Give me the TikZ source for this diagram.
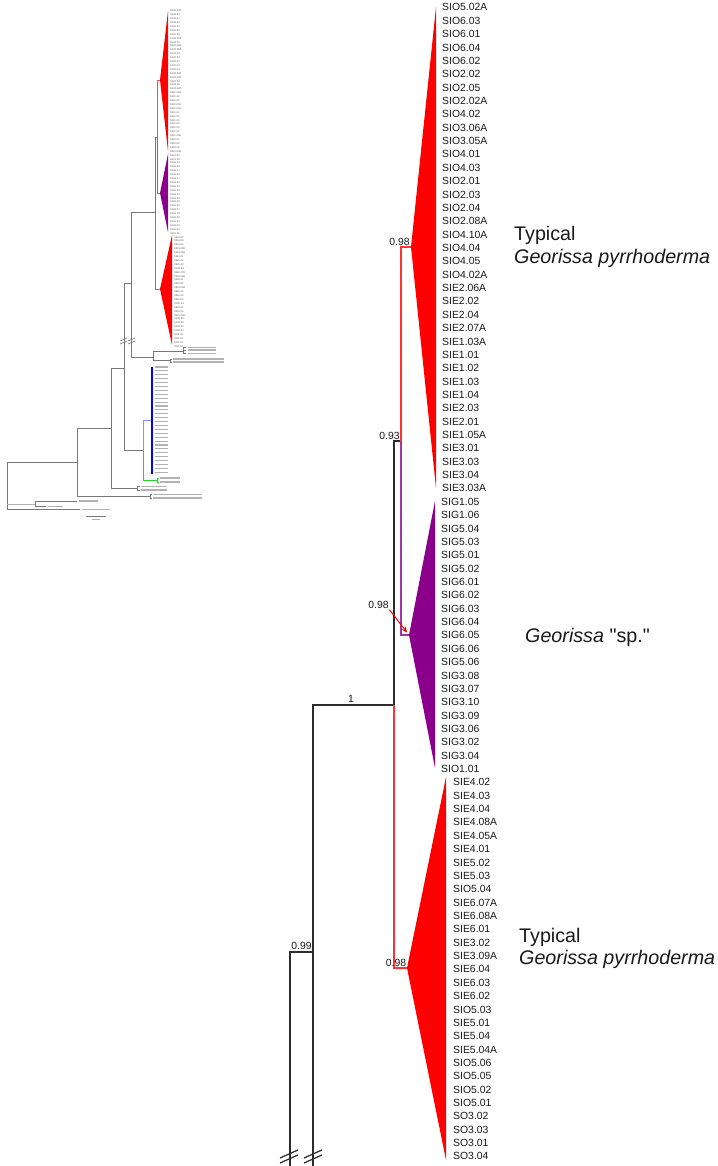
\documentclass[tikz,border=0pt]{standalone}
\usepackage{fontspec}
\setmainfont{Liberation Sans}
\newfontfamily\plainfont{Liberation Sans}
\usetikzlibrary{arrows.meta}
\definecolor{cpurple}{RGB}{139,0,139}
\definecolor{cred}{RGB}{255,0,0}
\definecolor{cline}{RGB}{45,45,45}
\definecolor{cblue}{RGB}{0,0,255}
\definecolor{cgreen}{RGB}{40,210,40}
\definecolor{cgrey}{RGB}{120,120,120}
\begin{document}
\begin{tikzpicture}[x=1pt,y=-1pt,
  taxon/.style={anchor=west,inner sep=0pt,font=\fontsize{10.4}{12}\selectfont,text=black!90,text height=7.4pt,text depth=0pt},
  support/.style={inner sep=0pt,font=\fontsize{10.4}{12}\selectfont,text=black!90,text height=7.4pt,text depth=0pt},
  grouplab/.style={anchor=base west,inner sep=0pt,font=\fontsize{19.7}{22}\selectfont,text=black!90},
  blk/.style={draw=cline,line width=1.6pt,line join=miter},
  redbr/.style={draw=cred!80,line width=1.1pt,line join=miter},
  purbr/.style={draw=cpurple!80,line width=1.3pt,line join=miter},
  brk/.style={draw=cline,line width=1.2pt},
  itiny/.style={anchor=west,inner sep=0pt,font=\fontsize{2.6}{3}\selectfont,text=black!65},
  iline/.style={draw=cgrey,line width=0.8pt,line join=miter},
  ired/.style={draw=cred!70,line width=0.6pt},
  ipur/.style={draw=cpurple!70,line width=0.6pt},
  iph/.style={draw=black!30,line width=1.1pt}
]
\useasboundingbox (0,0) rectangle (717,1166);

% ================= main tree =================
\coordinate (b1) at (313,1166);
\coordinate (b2) at (290,1166);
\coordinate (n099) at (290,952);
\coordinate (j099) at (313,952);
\coordinate (nroot) at (313,705);
\coordinate (n1) at (394,705);
\coordinate (j093) at (394,441);
\coordinate (n093) at (401,441);
\coordinate (ntop) at (401,247);
\coordinate (atop) at (411,247);
\coordinate (npur) at (401,635);
\coordinate (apur) at (409,635);
\coordinate (nbot) at (394,968);
\coordinate (abot) at (407,968);

% collapsed clades
\fill[cred] (atop) -- (436,7) -- (436,488) -- cycle;
\fill[cpurple] (apur) -- (435,501) -- (435,768) -- cycle;
\fill[cred] (abot) -- (446,777) -- (446,1160) -- cycle;

\draw[blk] (b1) -- (nroot) -- (n1) -- (j093) -- (n093);
\draw[blk] (j099) -- (n099) -- (b2);
\draw[redbr] (n1) -- (nbot) -- (abot);
\draw[redbr] (n093) -- (ntop) -- (atop);
\draw[purbr] (n093) -- (npur) -- (apur);

% break marks
\draw[brk] (280,1158) -- (298,1150);
\draw[brk] (280,1163) -- (298,1155);
\draw[brk] (304,1158) -- (322,1150);
\draw[brk] (304,1163) -- (322,1155);

% support values
\node[support] (s098a) at (399.5,242) {0.98};
\node[support] (s093) at (389.5,435.5) {0.93};
\node[support] (s098p) at (378.5,605) {0.98};
\node[support] (s1) at (351,699) {1};
\node[support] (s099) at (301.5,946) {0.99};
\node[support] (s098b) at (396,963) {0.98};
\draw[draw=cred,line width=1pt,-{Stealth[length=6pt,width=5pt]},shorten >=3pt,shorten <=1pt] (s098p.south east) -- (apur);

% taxon labels
\foreach \t [count=\i from 0] in {SIO5.02A,SIO6.03,SIO6.01,SIO6.04,SIO6.02,SIO2.02,SIO2.05,SIO2.02A,SIO4.02,SIO3.06A,SIO3.05A,SIO4.01,SIO4.03,SIO2.01,SIO2.03,SIO2.04,SIO2.08A,SIO4.10A,SIO4.04,SIO4.05,SIO4.02A,SIE2.06A,SIE2.02,SIE2.04,SIE2.07A,SIE1.03A,SIE1.01,SIE1.02,SIE1.03,SIE1.04,SIE2.03,SIE2.01,SIE1.05A,SIE3.01,SIE3.03,SIE3.04,SIE3.03A}
  \node[taxon] (m\i) at (442,{7.3+\i*13.36}) {\t};
\foreach \t [count=\i from 37] in {SIG1.05,SIG1.06,SIG5.04,SIG5.03,SIG5.01,SIG5.02,SIG6.01,SIG6.02,SIG6.03,SIG6.04,SIG6.05,SIG6.06,SIG5.06,SIG3.08,SIG3.07,SIG3.10,SIG3.09,SIG3.06,SIG3.02,SIG3.04,SIO1.01}
  \node[taxon] (m\i) at (441,{7.3+\i*13.36}) {\t};
\foreach \t [count=\i from 58] in {SIE4.02,SIE4.03,SIE4.04,SIE4.08A,SIE4.05A,SIE4.01,SIE5.02,SIE5.03,SIO5.04,SIE6.07A,SIE6.08A,SIE6.01,SIE3.02,SIE3.09A,SIE6.04,SIE6.03,SIE6.02,SIO5.03,SIE5.01,SIE5.04,SIE5.04A,SIO5.06,SIO5.05,SIO5.02,SIO5.01,SO3.02,SO3.03,SO3.01,SO3.04}
  \node[taxon] (m\i) at (453,{7.3+\i*13.36}) {\t};

% group labels
\node[grouplab] (g1a) at (514,240.7) {Typical};
\node[grouplab] (g1b) at (514,263.3) {\itshape Georissa pyrrhoderma};
\node[grouplab] (g2) at (525,642.7) {\textit{Georissa} {\plainfont "sp."}};
\node[grouplab] (g3a) at (519,942.7) {Typical};
\node[grouplab] (g3b) at (519,964.5) {\itshape Georissa pyrrhoderma};

% ================= inset tree =================
\coordinate (iatop) at (160,80);
\coordinate (intop) at (157,80);
\coordinate (in093) at (157,137);
\coordinate (ij093) at (155,137);
\coordinate (inpur) at (157,193);
\coordinate (iapur) at (160,193);
\coordinate (in1) at (155,212);
\coordinate (inbot) at (155,289);
\coordinate (iabot) at (160,289);
\coordinate (iA) at (131,212);
\coordinate (iAb) at (131,357);
\coordinate (iAj) at (124,283);
\coordinate (iAp) at (131,283);
\coordinate (iS) at (153,357);
\coordinate (iSu) at (153,351);
\coordinate (iSl) at (153,360.5);
\coordinate (iSa) at (183,351);
\coordinate (iKa) at (170,360.5);
\coordinate (iB) at (124,450);
\coordinate (iBt) at (124,368);
\coordinate (iC) at (111,368);
\coordinate (iCb) at (111,488);
\coordinate (iCj) at (111,428);
\coordinate (iH) at (137,488);
\coordinate (iD) at (77,428);
\coordinate (iDb) at (77,496);
\coordinate (iDj) at (77,462);
\coordinate (iG) at (150,496);
\coordinate (iR) at (7,462);
\coordinate (iRb) at (7,509);
\coordinate (iRn) at (7,504);
\coordinate (iN) at (35,504);
\coordinate (iE) at (143,450);
\coordinate (iEb) at (143,420);
\coordinate (iEg) at (143,480);
\coordinate (iBl) at (152,420);
\coordinate (iGr) at (157,480);

\fill[cred] (iatop) -- (168,11) -- (168,151) -- cycle;
\fill[cpurple] (iapur) -- (168,154) -- (168,232) -- cycle;
\fill[cred] (iabot) -- (172,235) -- (172,345) -- cycle;

\draw[ired] (in093) -- (intop) -- (iatop);
\draw[ipur] (in093) -- (inpur) -- (iapur);
\draw[ired] (in1) -- (inbot) -- (iabot);
\draw[iline] (ij093) -- (in093);
\draw[iline] (ij093) -- (in1) -- (iA) -- (iAb) -- (iS);
\draw[iline] (iAp) -- (iAj);
\draw[iline] (iSu) -- (iSl);
\draw[iline] (iSu) -- (iSa);
\draw[iline] (iSl) -- (iKa);
\draw[iline] (183,347.5) -- (183,353.5);
\foreach \yy in {347.5,350,353.5} \draw[iline,line width=0.5pt] (183,\yy) -- (186,\yy);
\draw[iline] (170,359) -- (170,362);
\foreach \yy in {359,362} \draw[iline,line width=0.5pt] (170,\yy) -- (172,\yy);
\draw[iline] (iAj) -- (iB) -- (iE);
\draw[iline] (iBt) -- (iC) -- (iCb) -- (iH);
\draw[iline] (137,486.5) -- (137,490);
\foreach \yy in {486.5,490} \draw[iline,line width=0.5pt] (137,\yy) -- (140,\yy);
\draw[iline] (iCj) -- (iD) -- (iDb) -- (iG);
\draw[iline] (150,494.5) -- (150,498);
\foreach \yy in {494.5,498} \draw[iline,line width=0.5pt] (150,\yy) -- (152,\yy);
\draw[iline] (iDj) -- (iR) -- (iRb) -- (80,509);
\draw[iline,draw=black!30] (iRn) -- (iN);
\draw[iline] (35,501) -- (35,506.5);
\draw[iline] (35,501) -- (77,501);
\draw[iline] (35,506.5) -- (46,506.5);
\draw[draw=cblue!45,line width=0.8pt] (iE) -- (iEb) -- (iBl);
\draw[draw=cgreen,line width=0.8pt] (iE) -- (iEg) -- (iGr);
\draw[draw=cgreen,line width=0.8pt] (157,478) -- (157,482);
\foreach \yy in {478,482} \draw[draw=cgreen,line width=0.5pt] (157,\yy) -- (159,\yy);
\draw[draw=cblue,line width=1.8pt] (152,367) -- (152,474);
% inset break marks
\draw[iline,line width=0.6pt] (120,341) -- (127,338);
\draw[iline,line width=0.6pt] (120,344) -- (127,341);
\draw[iline,line width=0.6pt] (128,341) -- (135,338);
\draw[iline,line width=0.6pt] (128,344) -- (135,341);
% scale bar
\draw[iline,line width=0.5pt] (86,516) -- (106,516);

% inset taxon labels
\foreach \t [count=\i from 0] in {SIO5.02A,SIO6.03,SIO6.01,SIO6.04,SIO6.02,SIO2.02,SIO2.05,SIO2.02A,SIO4.02,SIO3.06A,SIO3.05A,SIO4.01,SIO4.03,SIO2.01,SIO2.03,SIO2.04,SIO2.08A,SIO4.10A,SIO4.04,SIO4.05,SIO4.02A,SIE2.06A,SIE2.02,SIE2.04,SIE2.07A,SIE1.03A,SIE1.01,SIE1.02,SIE1.03,SIE1.04,SIE2.03,SIE2.01,SIE1.05A,SIE3.01,SIE3.03,SIE3.04,SIE3.03A,SIG1.05,SIG1.06,SIG5.04,SIG5.03,SIG5.01,SIG5.02,SIG6.01,SIG6.02,SIG6.03,SIG6.04,SIG6.05,SIG6.06,SIG5.06,SIG3.08,SIG3.07,SIG3.10,SIG3.09,SIG3.06,SIG3.02,SIG3.04,SIO1.01}
  \node[itiny] (im\i) at (170,{11+\i*3.9}) {\t};
\foreach \t [count=\i from 58] in {SIE4.02,SIE4.03,SIE4.04,SIE4.08A,SIE4.05A,SIE4.01,SIE5.02,SIE5.03,SIO5.04,SIE6.07A,SIE6.08A,SIE6.01,SIE3.02,SIE3.09A,SIE6.04,SIE6.03,SIE6.02,SIO5.03,SIE5.01,SIE5.04,SIE5.04A,SIO5.06,SIO5.05,SIO5.02,SIO5.01,SO3.02,SO3.03,SO3.01,SO3.04}
  \node[itiny] (im\i) at (174,{11+\i*3.9}) {\t};

% illegible inset labels (shown as grey marks)
\foreach \i in {0,...,27} \draw[iph] (155,{367+\i*3.9}) -- (168,{367+\i*3.9});
\foreach \yy in {347.5,350,353.5} \draw[iph] (188,\yy) -- (216,\yy);
\foreach \yy in {359,362} \draw[iph] (173,\yy) -- (224,\yy);
\foreach \yy in {478,482} \draw[iph] (160,\yy) -- (180,\yy);
\foreach \yy in {486.5,490} \draw[iph] (141,\yy) -- (167,\yy);
\foreach \yy in {494.5,498} \draw[iph] (153,\yy) -- (202,\yy);
\draw[iph] (79,501) -- (98,501);
\draw[iph] (48,506.5) -- (63,506.5);
\draw[iph] (82,509.5) -- (110,509.5);
\draw[iph,line width=0.8pt] (92,519.5) -- (100,519.5);
\end{tikzpicture}
\end{document}
